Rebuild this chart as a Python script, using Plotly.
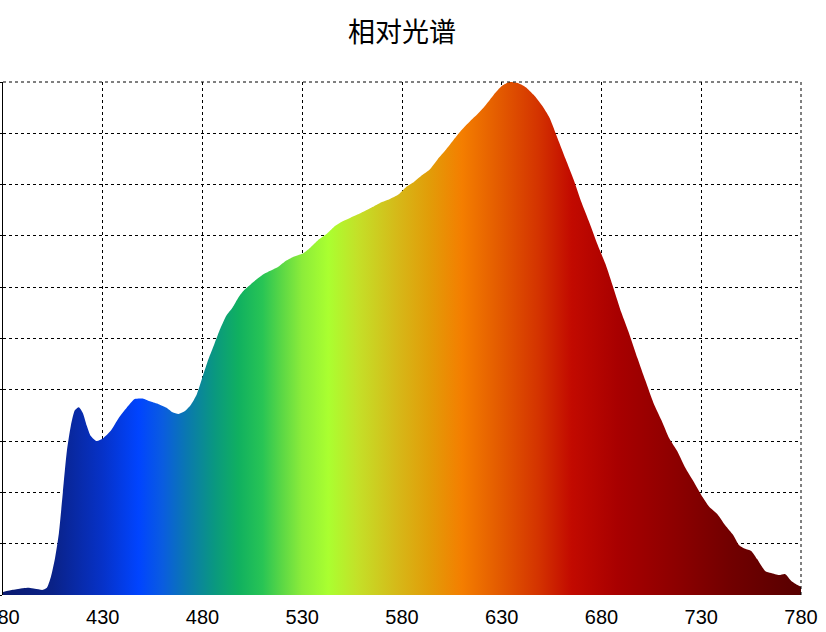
import plotly.graph_objects as go

# ---- data ----
wavelength = [380, 385, 390, 393, 396, 400, 402, 404, 406, 408, 410, 412, 414, 416, 418,
              420, 422, 424, 427, 430, 434, 438, 442, 446, 450, 454, 458, 462, 465, 468,
              471, 474, 477, 480, 483, 486, 489, 492, 495, 498, 501, 504, 507, 510, 514,
              518, 522, 526, 530, 534, 538, 542, 546, 550, 554, 558, 562, 566, 570, 574,
              578, 582, 586, 590, 594, 598, 602, 606, 610, 614, 618, 622, 626, 630, 634,
              638, 642, 646, 650, 654, 658, 662, 666, 670, 674, 678, 682, 686, 690, 694,
              698, 702, 706, 710, 714, 718, 722, 726, 730, 734, 738, 742, 746, 749, 752,
              755, 758, 762, 765, 769, 772, 775, 778, 780]
intensity = [0.006, 0.010, 0.013, 0.014, 0.012, 0.010, 0.014, 0.035, 0.07, 0.12, 0.20, 0.28,
             0.33, 0.36, 0.366, 0.355, 0.33, 0.31, 0.30, 0.305, 0.32, 0.345, 0.365, 0.382,
             0.383, 0.377, 0.372, 0.365, 0.356, 0.353, 0.358, 0.37, 0.39, 0.425, 0.46, 0.49,
             0.52, 0.545, 0.56, 0.58, 0.595, 0.605, 0.615, 0.624, 0.632, 0.64, 0.652, 0.66,
             0.665, 0.677, 0.692, 0.703, 0.718, 0.728, 0.735, 0.742, 0.75, 0.758, 0.766,
             0.772, 0.78, 0.795, 0.805, 0.818, 0.83, 0.85, 0.868, 0.888, 0.907, 0.923, 0.938,
             0.955, 0.975, 0.992, 1.0, 0.998, 0.99, 0.975, 0.955, 0.93, 0.89, 0.85, 0.81,
             0.765, 0.725, 0.683, 0.645, 0.598, 0.55, 0.508, 0.462, 0.418, 0.375, 0.341,
             0.305, 0.28, 0.248, 0.222, 0.195, 0.172, 0.158, 0.136, 0.117, 0.097, 0.09,
             0.086, 0.07, 0.047, 0.043, 0.039, 0.041, 0.028, 0.02, 0.016]

x_ticks = [380, 430, 480, 530, 580, 630, 680, 730, 780]
title_text = "相对光谱"

# wavelength -> colour stops of the spectrum gradient
color_nm = [380, 405, 430, 448, 460, 472, 486, 498, 510, 520, 530, 543, 558, 578, 594,
            610, 628, 648, 665, 688, 718, 744, 768, 780]
color_hex = ["#0a1a70", "#0a2288", "#0632c8", "#0044ff", "#0a5ce0", "#0a78b0", "#0a9880",
             "#10b060", "#28c455", "#5cd845", "#8cec3a", "#aaff30", "#c4e028", "#d6b818",
             "#e29c08", "#f47e00", "#e45c00", "#d43400", "#c20a00", "#a80000", "#8c0000",
             "#720000", "#600000", "#580000"]

x0, x1 = x_ticks[0], x_ticks[-1]
colorscale = [[(n - x0) / (x1 - x0), c] for n, c in zip(color_nm, color_hex)]

fig = go.Figure()
fig.add_trace(go.Scatter(
    x=wavelength, y=intensity, mode="lines", fill="tozeroy",
    line=dict(width=0, color="#8c0000", shape="spline", smoothing=0.6),
    fillgradient=dict(type="horizontal", colorscale=colorscale, start=x0, stop=x1),
    hoverinfo="x+y", showlegend=False,
))

dash = "3px,3px"
grid = dict(showgrid=True, gridcolor="black", gridwidth=1, griddash=dash)

# dashed top and right frame of the plot area
frame = dict(type="line", xref="paper", yref="paper", layer="above",
             line=dict(color="black", width=1, dash=dash))
fig.add_shape(x0=0, x1=1, y0=1, y1=1, **frame)
fig.add_shape(x0=1, x1=1, y0=0, y1=1, **frame)

fig.update_layout(
    width=826, height=632,
    paper_bgcolor="white", plot_bgcolor="white",
    margin=dict(l=3, r=25, t=82, b=37, autoexpand=False),
    title=dict(text=title_text, x=(3 + 801) / 2 / 826, xanchor="center", y=1 - 33 / 632,
               yanchor="middle",
               font=dict(family="Noto Sans CJK SC", size=27, color="black")),
    xaxis=dict(range=[x0, x1], tickvals=x_ticks, ticktext=[str(v) for v in x_ticks],
               showline=False, zeroline=False, ticks="outside", ticklen=4,
               tickcolor="rgba(0,0,0,0)", automargin=False, ticklabeloverflow="allow",
               tickfont=dict(family="Liberation Sans", size=20, color="black"), **grid),
    yaxis=dict(range=[0, 1], dtick=0.1, showline=True, linecolor="black", linewidth=1,
               ticks="outside", ticklen=5, tickcolor="black", showticklabels=False,
               automargin=False, zeroline=False, **grid),
)

fig.write_html(
    "out.html",
    config={"displayModeBar": False},
    post_script="document.body.style.margin='0';document.body.style.overflow='hidden';",
)
